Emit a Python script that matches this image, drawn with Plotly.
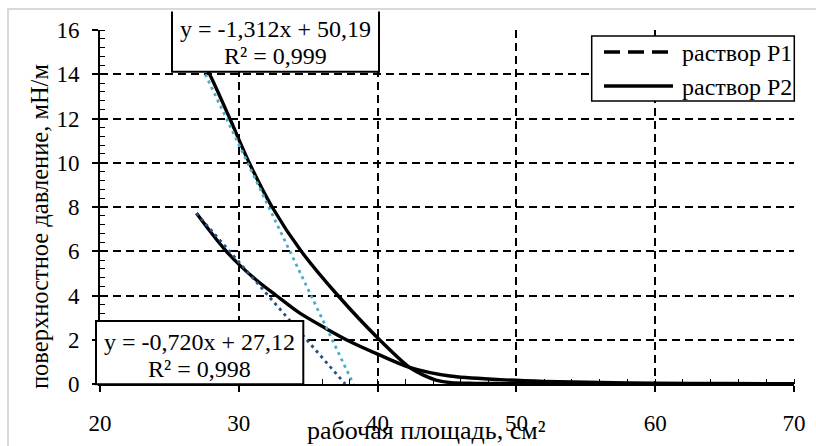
import plotly.graph_objects as go

# --- data -------------------------------------------------------------
area_p1 = [26.5, 27.9, 29.35, 30.75, 32.4, 34.5, 37.14, 40.14, 42.3, 43.3,
           44.2, 45.3, 47.0, 50.0, 55.0, 60.0, 65.0, 70.0]
pressure_p1 = [15.6, 14.0, 12.0, 10.0, 8.0, 6.0, 4.0, 2.0, 0.75, 0.4,
               0.18, 0.06, 0.03, 0.02, 0.01, 0.01, 0.0, 0.0]

area_p2 = [26.95, 28.0, 29.1, 30.1, 31.3, 32.7, 34.4, 36.3, 38.0, 40.0,
           42.3, 45.2, 48.8, 52.0, 56.0, 60.0, 65.0, 70.0]
pressure_p2 = [7.72, 6.85, 6.0, 5.35, 4.68, 4.0, 3.2, 2.5, 1.92, 1.35,
               0.75, 0.36, 0.2, 0.12, 0.07, 0.04, 0.02, 0.01]

# linear trend lines: slope, intercept, R²
fit_p1 = (-1.312, 50.19, 0.999)
fit_p2 = (-0.720, 27.12, 0.998)

series_names = ["раствор Р1", "раствор Р2"]
x_ticks = [20, 30, 40, 50, 60, 70]
y_ticks = [0, 2, 4, 6, 8, 10, 12, 14, 16]

# --- layout geometry ----------------------------------------------------
W, H = 816, 446
ML, MR, MT, MB = 100, 22, 30, 62
PW, PH = W - ML - MR, H - MT - MB
FONT = "Liberation Serif, Times New Roman, Tinos, serif"


def px(x):
    return (x - ML) / PW


def py(y):
    return (H - MB - y) / PH


def fmt(v, nd):
    return f"{v:.{nd}f}".replace(".", ",")


def trend_points(xs, fit):
    a, b, _ = fit
    x0, x1 = min(xs), -b / a
    return [x0, x1], [a * x0 + b, a * x1 + b]


def label(text, x, y, size=24, xanchor="center", **kw):
    return dict(xref="paper", yref="paper", x=px(x), y=py(y), showarrow=False,
                xanchor=xanchor, yanchor="middle", text=text,
                font=dict(family=FONT, size=size, color="black"), **kw)


fig = go.Figure()

# measured isotherms
for xs, ys in [(area_p1, pressure_p1), (area_p2, pressure_p2)]:
    fig.add_trace(go.Scatter(
        x=xs, y=ys, mode="lines", showlegend=False,
        line=dict(color="black", width=3.4, shape="spline", smoothing=0.8),
        hoverinfo="skip"))

# trend lines drawn over the curves
for xs, fit, col in [(area_p1, fit_p1, "#4bacc6"), (area_p2, fit_p2, "#264f7f")]:
    tx, ty = trend_points(xs, fit)
    fig.add_trace(go.Scatter(
        x=tx, y=ty, mode="lines", showlegend=False,
        line=dict(color=col, width=2.8, dash="3px,4px"),
        hoverinfo="skip"))

shapes = []
annotations = []

# outer frame of the chart (left and top edges)
shapes.append(dict(type="path", xref="paper", yref="paper",
                   path=f"M {px(8)},{py(460)} L {px(8)},{py(9)} L {px(830)},{py(9)}",
                   line=dict(color="#d9d9d9", width=2)))

# equation box for Р1 (top edge runs off the chart)
l, r, t, b = px(172), px(379), py(11.5), py(71.7)
shapes.append(dict(type="path", xref="paper", yref="paper",
                   path=f"M {l},{t} L {l},{b} L {r},{b} L {r},{t}",
                   fillcolor="white", line=dict(color="black", width=2)))
# equation box for Р2
shapes.append(dict(type="rect", xref="paper", yref="paper",
                   x0=px(96), x1=px(303.3), y0=py(321), y1=py(384.3),
                   fillcolor="white", line=dict(color="black", width=2)))

eq_pos = [((275.5, 29), (275.5, 56)), ((199.5, 342), (199.5, 369))]
for fit, ((x1, y1), (x2, y2)) in zip([fit_p1, fit_p2], eq_pos):
    a, b, r2 = fit
    annotations.append(label(f"y = {fmt(a, 3)}x + {fmt(b, 2)}", x1, y1))
    annotations.append(label(f"R² = {fmt(r2, 3)}", x2, y2))

# legend
shapes.append(dict(type="rect", xref="paper", yref="paper",
                   x0=px(591.7), x1=px(794.3), y0=py(36), y1=py(101),
                   fillcolor="white", line=dict(color="black", width=1.5)))
for name, yy, dash in [(series_names[0], 52, "16px,8px"), (series_names[1], 86, "solid")]:
    shapes.append(dict(type="line", xref="paper", yref="paper",
                       x0=px(604), x1=px(673), y0=py(yy), y1=py(yy),
                       line=dict(color="black", width=3.4, dash=dash)))
    annotations.append(label(name, 680, yy + 1, xanchor="left"))

# axis titles
annotations.append(label("рабочая площадь, см²", 426, 430, size=26))
annotations.append(label("поверхностное давление, мН/м", 40, 227, size=24.5,
                         textangle=-90))

grid = dict(showgrid=True, gridcolor="black", gridwidth=1.5, griddash="8px,5px",
            zeroline=False, showline=True, linecolor="black", linewidth=2,
            ticks="outside", ticklen=6, tickwidth=1.5, tickcolor="black",
            automargin=False,
            tickfont=dict(family=FONT, size=23, color="black"))

fig.update_layout(
    width=W, height=H,
    margin=dict(l=ML, r=MR, t=MT, b=MB),
    paper_bgcolor="white", plot_bgcolor="white",
    showlegend=False,
    font=dict(family=FONT),
    shapes=shapes, annotations=annotations,
    xaxis=dict(range=[20, 70], tickvals=x_ticks, ticklabelstandoff=11,
               minor=dict(dtick=2, ticks="inside", ticklen=5, tickwidth=1.3,
                          tickcolor="black", showgrid=False),
               **grid),
    yaxis=dict(range=[0, 16], tickvals=y_ticks, ticklabelstandoff=8,
               minor=dict(dtick=0.4, ticks="inside", ticklen=5, tickwidth=1.3,
                          tickcolor="black", showgrid=False),
               **grid),
)

fig.write_html("out.html")
